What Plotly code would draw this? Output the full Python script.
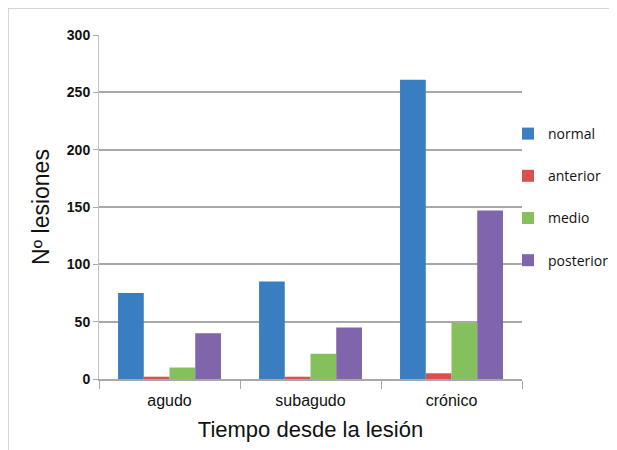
import plotly.graph_objects as go

categories = ["agudo", "subagudo", "crónico"]
series_names = ["normal", "anterior", "medio", "posterior"]
normal = [75, 85, 261]
anterior = [2, 2, 5]
medio = [10, 22, 49]
posterior = [40, 45, 147]
colors = ["#3a7ec2", "#d9514c", "#84c15c", "#8064ac"]
y_ticks = [0, 50, 100, 150, 200, 250, 300]

fig = go.Figure()
for i, (name, vals) in enumerate(zip(series_names, [normal, anterior, medio, posterior])):
    fig.add_trace(go.Bar(x=categories, y=vals, name=name, marker_color=colors[i],
                         marker_line_width=0, legendgroup=name))

# page body has an 8px offset; work in screen pixels minus 8
OFF = 8
W, H = 617 - OFF, 450 - OFF
px_l, px_r, px_t, px_b = 99, 522, 35, 379
L, R, T, B = px_l - OFF, W - (px_r - OFF), px_t - OFF, H - (px_b - OFF)
pw, ph = W - L - R, H - T - B

def xp(px):
    return (px - px_l) / pw

def yp(py):
    return (px_b - py) / ph

fig.update_layout(
    width=W, height=H,
    margin=dict(l=L, r=R, t=T, b=B, autoexpand=False),
    paper_bgcolor="white", plot_bgcolor="white",
    barmode="group", bargap=0.27, bargroupgap=0,
    font=dict(family="Liberation Sans, Arial", color="#111111"),
    legend=dict(x=xp(508), y=yp(197), xanchor="left", yanchor="middle",
                font=dict(size=14, family="Open Sans, Lato, sans-serif"),
                tracegroupgap=21, traceorder="grouped",
                itemwidth=30, bgcolor="rgba(0,0,0,0)"),
    xaxis=dict(showline=True, linecolor="#a8a8a8", linewidth=1.5,
               ticks="outside", tickson="boundaries", ticklen=8, tickcolor="#a8a8a8",
               tickfont=dict(size=16, family="Liberation Sans, Arial"),
               ticklabelstandoff=6,
               automargin=False,
               title=dict(text="Tiempo desde la lesión", font=dict(size=22), standoff=14)),
    yaxis=dict(range=[0, 300], tickvals=y_ticks, showgrid=True, gridcolor="#a8a8a8", gridwidth=1.5,
               showline=True, linecolor="#c0c0c0", linewidth=1, zeroline=False,
               ticks="outside", ticklen=5, tickcolor="#a8a8a8",
               tickfont=dict(size=14, family="Liberation Sans, Arial", weight="bold"),
               automargin=False,
               title=dict(text="Nº lesiones", font=dict(size=23), standoff=10)),
    shapes=[dict(type="line", xref="paper", yref="paper",
                 x0=xp(8), x1=xp(640), y0=yp(8), y1=yp(8),
                 line=dict(color="#c8c8c8", width=1.5)),
            dict(type="line", xref="paper", yref="paper",
                 x0=xp(8), x1=xp(8), y0=yp(8), y1=yp(470),
                 line=dict(color="#c8c8c8", width=1.5))],
)

fig.write_html("out.html")
